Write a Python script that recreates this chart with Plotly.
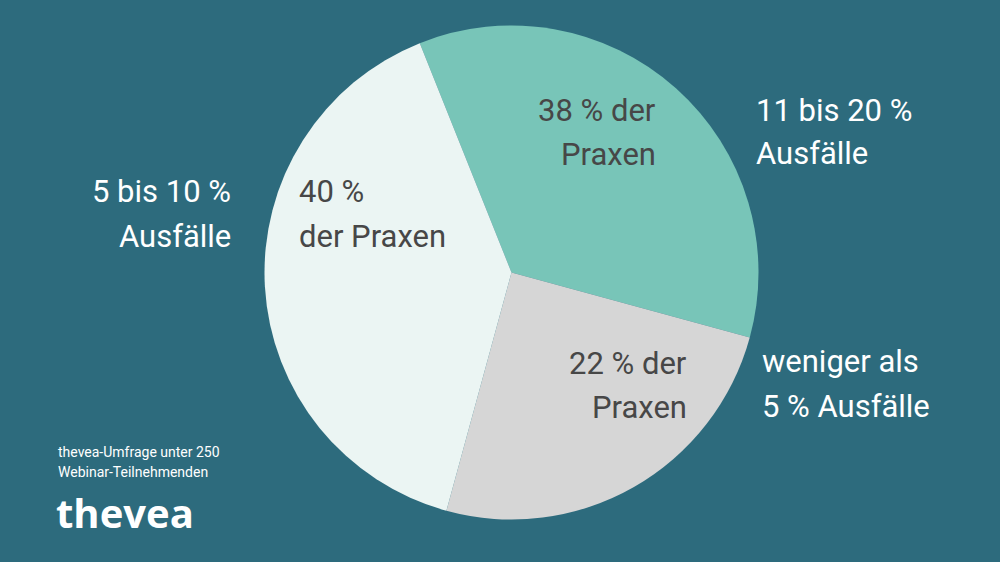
import plotly.graph_objects as go

# Data
categories = ["11 bis 20 % Ausfälle", "weniger als 5 % Ausfälle", "5 bis 10 % Ausfälle"]
slice_shares = [35.3, 25.0, 39.7]          # visual angular shares of the drawn slices
slice_labels = ["38 % der<br>Praxen", "22 % der<br>Praxen", "40 %<br>der Praxen"]
slice_colors = ["#78C5B8", "#D6D6D6", "#EBF5F3"]

W, H = 1000, 562
BG = "#2D6B7D"

fig = go.Figure()
cx, cy, r = 511.5, 272.5, 247
fig.add_trace(go.Pie(
    labels=categories, values=slice_shares, sort=False, direction="clockwise",
    rotation=-21.8, textinfo="none", hoverinfo="label+value",
    marker=dict(colors=slice_colors, line=dict(width=0)),
    domain=dict(x=[(cx - r) / W, (cx + r) / W], y=[1 - (cy + r) / H, 1 - (cy - r) / H]),
    showlegend=False,
))

def line(text, x, baseline, anchor, size, color, family="Roboto", weight="normal"):
    ymid = baseline - 0.342 * size
    fig.add_annotation(
        text=text, x=x / W, y=1 - ymid / H, xref="paper", yref="paper",
        xanchor=anchor, yanchor="middle", showarrow=False,
        font=dict(family=family, size=size, color=color, weight=weight),
    )

DARK = "#474747"
WHITE = "#FFFFFF"
FS = 31
# inside-slice labels
line("38 % der", 658, 121, "right", FS, DARK)
line("Praxen", 658, 165, "right", FS, DARK)
line("22 % der", 689, 374, "right", FS, DARK)
line("Praxen", 689, 418, "right", FS, DARK)
line("40 %", 297, 202, "left", FS, DARK)
line("der Praxen", 297, 247, "left", FS, DARK)
# outside category labels
line("11 bis 20 %", 754, 121, "left", FS, WHITE)
line("Ausfälle", 754, 164, "left", FS, WHITE)
line("5 bis 10 %", 233, 202, "right", FS, WHITE)
line("Ausfälle", 233, 247, "right", FS, WHITE)
line("weniger als", 760, 372, "left", FS, WHITE)
line("5 % Ausfälle", 760, 417, "left", FS, WHITE)
# source note & logo
line("thevea-Umfrage unter 250", 56, 457, "left", 14, WHITE)
line("Webinar-Teilnehmenden", 56, 477, "left", 14, WHITE)
line("thevea", 54, 526, "left", 40, WHITE, family="Open Sans", weight="bold")

fig.update_layout(
    width=W, height=H, margin=dict(l=0, r=0, t=0, b=0),
    paper_bgcolor=BG, plot_bgcolor=BG,
)
fig.write_html(
    "out.html",
    config={"displayModeBar": False},
    post_script="document.body.style.margin='0';document.body.style.padding='0';"
                "document.body.style.background='" + BG + "';",
)
